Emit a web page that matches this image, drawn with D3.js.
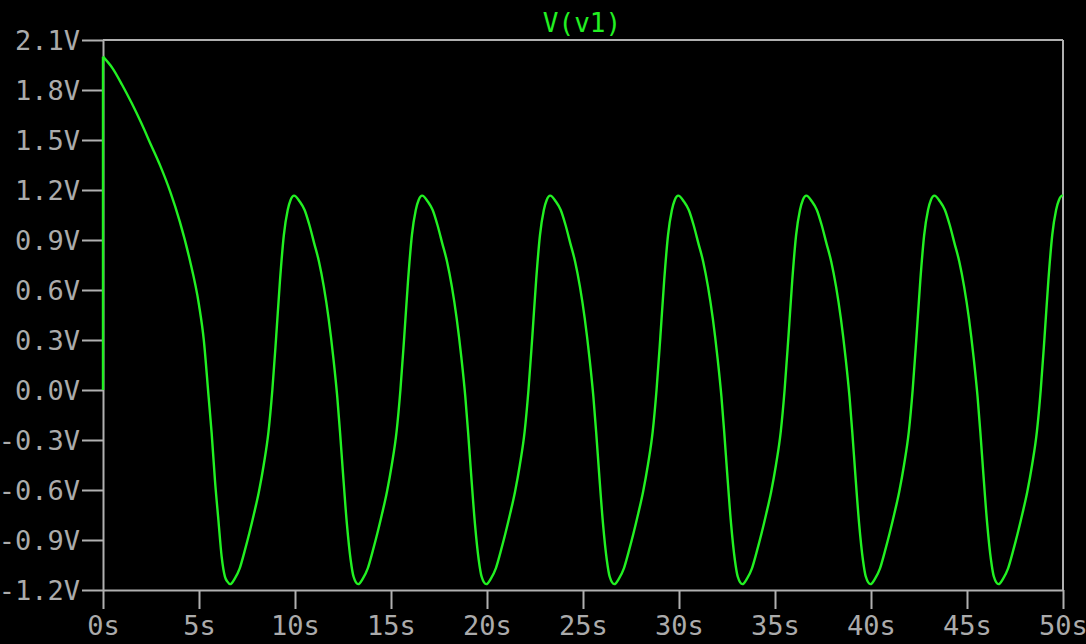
<!DOCTYPE html>
<html>
<head>
<meta charset="utf-8">
<script src="https://cdn.jsdelivr.net/npm/d3@7"></script>
<style>
  html, body { margin: 0; padding: 0; background: #000; }
  svg { display: block; }
</style>
</head>
<body>
<svg id="chart" width="1086" height="644"></svg>
<script>
// ---- data ----
const seriesName = "V(v1)";
const xTickValues = [0, 5, 10, 15, 20, 25, 30, 35, 40, 45, 50];
const xTickLabels = ["0s", "5s", "10s", "15s", "20s", "25s", "30s", "35s", "40s", "45s", "50s"];
const yTickValues = [2.1, 1.8, 1.5, 1.2, 0.9, 0.6, 0.3, 0.0, -0.3, -0.6, -0.9, -1.2];
const yTickLabels = ["2.1V", "1.8V", "1.5V", "1.2V", "0.9V", "0.6V", "0.3V", "0.0V", "-0.3V", "-0.6V", "-0.9V", "-1.2V"];

// initial step and first decay
const decayTime  = [0, 0, 0.5, 1.0, 1.5, 2.0, 2.5, 3.0, 3.5, 4.0, 4.5, 5.0, 5.25, 5.5, 5.66, 5.83, 6.01, 6.18, 6.35, 6.48];
const decayVolts = [0, 2.0, 1.93, 1.83, 1.72, 1.60, 1.47, 1.34, 1.19, 1.01, 0.79, 0.51, 0.30, -0.04, -0.26, -0.54, -0.78, -1.0, -1.12, -1.15];

// steady oscillation
const oscTime = [
  6.62, 6.87, 7.12, 7.37, 7.62, 7.87, 8.12, 8.37, 8.62, 8.82, 9.02, 9.22, 9.42, 9.62, 9.77, 9.95, 10.25, 10.50, 10.75, 11.00, 11.25, 11.50, 11.75, 12.00, 12.20, 12.35, 12.50, 12.70, 12.90, 13.05,
  13.29, 13.54, 13.79, 14.04, 14.29, 14.54, 14.79, 15.04, 15.29, 15.49, 15.69, 15.89, 16.09, 16.29, 16.44, 16.62, 16.92, 17.17, 17.42, 17.67, 17.92, 18.17, 18.42, 18.67, 18.87, 19.02, 19.17, 19.37, 19.57, 19.72,
  19.96, 20.21, 20.46, 20.71, 20.96, 21.21, 21.46, 21.71, 21.96, 22.16, 22.36, 22.56, 22.76, 22.96, 23.11, 23.29, 23.59, 23.84, 24.09, 24.34, 24.59, 24.84, 25.09, 25.34, 25.54, 25.69, 25.84, 26.04, 26.24, 26.39,
  26.63, 26.88, 27.13, 27.38, 27.63, 27.88, 28.13, 28.38, 28.63, 28.83, 29.03, 29.23, 29.43, 29.63, 29.78, 29.96, 30.26, 30.51, 30.76, 31.01, 31.26, 31.51, 31.76, 32.01, 32.21, 32.36, 32.51, 32.71, 32.91, 33.06,
  33.30, 33.55, 33.80, 34.05, 34.30, 34.55, 34.80, 35.05, 35.30, 35.50, 35.70, 35.90, 36.10, 36.30, 36.45, 36.63, 36.93, 37.18, 37.43, 37.68, 37.93, 38.18, 38.43, 38.68, 38.88, 39.03, 39.18, 39.38, 39.58, 39.73,
  39.97, 40.22, 40.47, 40.72, 40.97, 41.22, 41.47, 41.72, 41.97, 42.17, 42.37, 42.57, 42.77, 42.97, 43.12, 43.30, 43.60, 43.85, 44.10, 44.35, 44.60, 44.85, 45.10, 45.35, 45.55, 45.70, 45.85, 46.05, 46.25, 46.40,
  46.64, 46.89, 47.14, 47.39, 47.64, 47.89, 48.14, 48.39, 48.64, 48.84, 49.04, 49.24, 49.44, 49.64, 49.79, 49.97, 50.0
];
const oscVolts = [
  -1.165, -1.13, -1.07, -0.97, -0.86, -0.74, -0.61, -0.45, -0.25, 0.0, 0.32, 0.66, 0.93, 1.08, 1.14, 1.166, 1.13, 1.08, 0.99, 0.88, 0.77, 0.62, 0.43, 0.19, -0.04, -0.26, -0.50, -0.80, -1.02, -1.12,
  -1.165, -1.13, -1.07, -0.97, -0.86, -0.74, -0.61, -0.45, -0.25, 0.0, 0.32, 0.66, 0.93, 1.08, 1.14, 1.166, 1.13, 1.08, 0.99, 0.88, 0.77, 0.62, 0.43, 0.19, -0.04, -0.26, -0.50, -0.80, -1.02, -1.12,
  -1.165, -1.13, -1.07, -0.97, -0.86, -0.74, -0.61, -0.45, -0.25, 0.0, 0.32, 0.66, 0.93, 1.08, 1.14, 1.166, 1.13, 1.08, 0.99, 0.88, 0.77, 0.62, 0.43, 0.19, -0.04, -0.26, -0.50, -0.80, -1.02, -1.12,
  -1.165, -1.13, -1.07, -0.97, -0.86, -0.74, -0.61, -0.45, -0.25, 0.0, 0.32, 0.66, 0.93, 1.08, 1.14, 1.166, 1.13, 1.08, 0.99, 0.88, 0.77, 0.62, 0.43, 0.19, -0.04, -0.26, -0.50, -0.80, -1.02, -1.12,
  -1.165, -1.13, -1.07, -0.97, -0.86, -0.74, -0.61, -0.45, -0.25, 0.0, 0.32, 0.66, 0.93, 1.08, 1.14, 1.166, 1.13, 1.08, 0.99, 0.88, 0.77, 0.62, 0.43, 0.19, -0.04, -0.26, -0.50, -0.80, -1.02, -1.12,
  -1.165, -1.13, -1.07, -0.97, -0.86, -0.74, -0.61, -0.45, -0.25, 0.0, 0.32, 0.66, 0.93, 1.08, 1.14, 1.166, 1.13, 1.08, 0.99, 0.88, 0.77, 0.62, 0.43, 0.19, -0.04, -0.26, -0.50, -0.80, -1.02, -1.12,
  -1.165, -1.13, -1.07, -0.97, -0.86, -0.74, -0.61, -0.45, -0.25, 0.0, 0.32, 0.66, 0.93, 1.08, 1.14, 1.166, 1.165
];

// ---- drawing ----
const W = 1086, H = 644;
const margin = { left: 103, right: 23, top: 40, bottom: 54 };
const gray = "#b0b0b0";
const textGray = "#ababab";
const green = "#22f022";
const font = "'DejaVu Sans Mono', 'Liberation Mono', monospace";

const svg = d3.select("#chart");
svg.append("rect").attr("width", W).attr("height", H).attr("fill", "#000");

const x = d3.scaleLinear().domain([0, 50]).range([margin.left, W - margin.right]);
const y = d3.scaleLinear().domain([-1.2, 2.1]).range([H - margin.bottom, margin.top]);

// frame (top and right)
svg.append("line").attr("x1", x(0)).attr("x2", x(50)).attr("y1", y(2.1)).attr("y2", y(2.1))
  .attr("stroke", gray).attr("stroke-width", 2);
svg.append("line").attr("x1", x(50)).attr("x2", x(50)).attr("y1", y(2.1)).attr("y2", y(-1.2))
  .attr("stroke", gray).attr("stroke-width", 2);

// y axis
const yAxis = d3.axisLeft(y).tickValues(yTickValues)
  .tickFormat((d, i) => yTickLabels[i]).tickSize(21).tickSizeOuter(0).tickPadding(2);
const gy = svg.append("g").attr("transform", `translate(${x(0)},0)`).call(yAxis);

// x axis
const xAxis = d3.axisBottom(x).tickValues(xTickValues)
  .tickFormat((d, i) => xTickLabels[i]).tickSize(19).tickSizeOuter(0).tickPadding(3);
const gx = svg.append("g").attr("transform", `translate(0,${y(-1.2)})`).call(xAxis);

[gx, gy].forEach(g => {
  g.select(".domain").attr("stroke", gray).attr("stroke-width", 2);
  g.selectAll(".tick line").attr("stroke", gray).attr("stroke-width", 2);
  g.selectAll(".tick text").attr("fill", textGray)
    .style("font-family", font).style("font-size", "27px");
});
gy.selectAll(".tick text").attr("dy", "0.36em");
gx.selectAll(".tick text").attr("dy", "0.85em");

// title
svg.append("text").attr("x", (x(0) + x(50)) / 2 - 1).attr("y", 32)
  .attr("text-anchor", "middle").attr("fill", green)
  .style("font-family", font).style("font-size", "26px")
  .text(seriesName);

// trace
const stepPts = decayTime.slice(0, 2).map((t, i) => [t, decayVolts[i]]);
const curvePts = decayTime.slice(1).map((t, i) => [t, decayVolts[i + 1]])
  .concat(oscTime.map((t, i) => [t, oscVolts[i]]));

svg.append("path").datum(stepPts)
  .attr("fill", "none").attr("stroke", green).attr("stroke-width", 2.4)
  .attr("d", d3.line().x(d => x(d[0])).y(d => y(d[1])));

svg.append("path").datum(curvePts)
  .attr("fill", "none").attr("stroke", green).attr("stroke-width", 2.4)
  .attr("stroke-linejoin", "round")
  .attr("d", d3.line().x(d => x(d[0])).y(d => y(d[1])).curve(d3.curveMonotoneX));
</script>
</body>
</html>
